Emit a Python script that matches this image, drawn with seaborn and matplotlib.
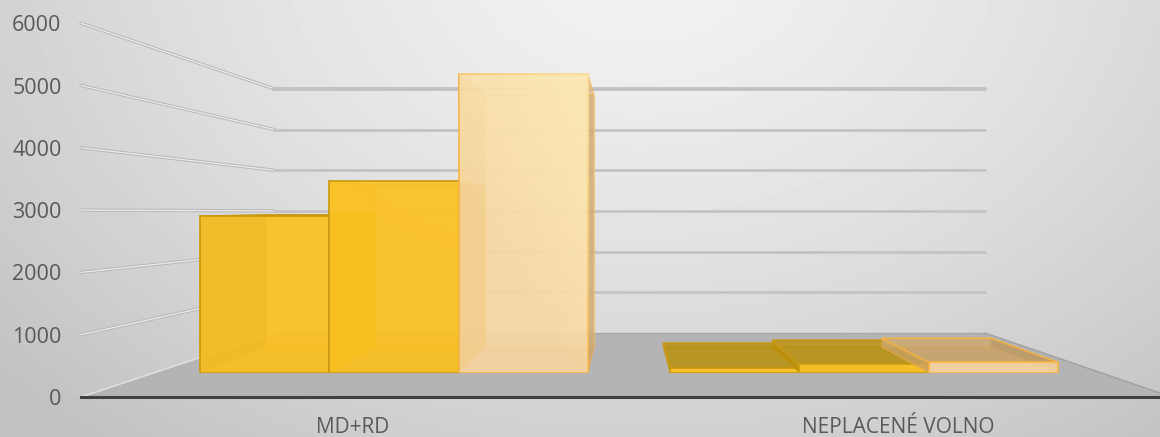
import numpy as np
import pandas as pd
import matplotlib
matplotlib.use('Agg')
from matplotlib import pyplot as plt
from matplotlib.patches import Polygon
import seaborn as sns

# values
categories = ['MD+RD', 'NEPLACENÉ VOLNO']
series_names = ['a', 'b', 'c']
series_a = [2900, 85]
series_b = [3545, 150]
series_c = [5530, 190]
y_ticks = [0, 1000, 2000, 3000, 4000, 5000, 6000]

df = pd.DataFrame({
    'category': categories * 3,
    'series': [s for s in series_names for _ in categories],
    'value': series_a + series_b + series_c,
})

sns.set_style('white')
plt.rcParams['font.family'] = ['Open Sans', 'DejaVu Sans']

W, H = 1160, 437
fig = plt.figure(figsize=(W / 100, H / 100), dpi=100)


def plane_axes(left, base, top, right=W):
    # axes given in pixel edges of the picture
    return fig.add_axes([left / W, (H - base) / H, (right - left) / W, (base - top) / H])


# background and walls work in plain pixels
bg = fig.add_axes([0, 0, 1, 1], zorder=0)
yy, xx = np.mgrid[0:H, 0:W]
dist = np.sqrt(((xx - 640) / 780) ** 2 + ((yy + 40) / 560) ** 2)
bg.imshow(242 - 42 * np.clip(dist, 0, 1.1) ** 1.4, cmap='gray', vmin=0, vmax=255,
          extent=(0, W, H, 0), aspect='auto')
bg.set_xlim(0, W)
bg.set_ylim(H, 0)
bg.axis('off')

# perspective of the 3d box
vanish = (626, 207)
depth = 0.155
front_base, front_scale = 397, 62.3 / 1000
back_base, back_scale = 333, 40.7 / 1000
back_left, back_right = 274, 985
front_left = 81

bg.add_patch(Polygon([(front_left, front_base), (back_left, back_base), (back_right, back_base),
                      (1160, 393), (1160, front_base)], fc='#b4b4b4', ec='none'))
bg.plot([front_left, back_left], [front_base, back_base], color='#e4e4e4', lw=1)
bg.plot([back_left, back_right], [back_base, back_base], color='#a8a8a8', lw=1)
bg.plot([back_right, 1160], [back_base, 393], color='#a0a0a0', lw=1)

for v in y_ticks[1:]:
    y0 = front_base - front_scale * v
    y1 = back_base - back_scale * v
    bg.plot([front_left, back_left], [y0, y1], color='#b8b8b8', lw=2.4, solid_capstyle='round')
    bg.plot([front_left, back_left], [y0, y1], color='#ececec', lw=0.9, solid_capstyle='round')
    bg.plot([back_left, back_right], [y1, y1], color='#c2c2c2', lw=2.8 if v == 6000 else 1.9)

# axis plane: tick labels and the dark front line
front = plane_axes(front_left, front_base, front_base - 6000 * front_scale)
front.patch.set_alpha(0)
front.set_zorder(1)
front.set_ylim(0, 6000)
front.set_yticks(y_ticks)
front.set_yticklabels([str(v) for v in y_ticks], fontsize=15.5, color='#595959')
front.set_xlim(-(353 - front_left) / 545, (W - 353) / 545)
front.set_xticks([0, 1])
front.set_xticklabels(categories, fontsize=15, color='#595959')
front.tick_params(axis='y', length=0, pad=14)
front.tick_params(axis='x', length=0, pad=14.5)
for side in ['top', 'left', 'right']:
    front.spines[side].set_visible(False)
front.spines['bottom'].set_color('#404040')
front.spines['bottom'].set_linewidth(2.2)

# bar plane: the bars sit on the floor a bit behind the axis
bar_base, bar_scale = 372.5, 53.9 / 1000
ax = plane_axes(0, bar_base, bar_base - 6000 * bar_scale)
ax.set_zorder(2)
ax.patch.set_alpha(0)
sns.barplot(data=df, x='category', y='value', hue='series',
            palette=['#fcc222', '#fcc222', '#f9d8a2'], width=0.825, gap=0,
            saturation=1, legend=False, ax=ax)
ax.set_xlim(-394 / 470, (W - 394) / 470)
ax.set_ylim(0, 6000)
ax.axis('off')

edge_cols = ['#c99a10', '#c99a10', '#f7b240']
side_cols = ['#f0b400', '#f0b400', '#eebd6e']
dark_cols = ['#a88408', '#a88408', '#c09a60']
front_alpha = [0.86, 0.86, 0.78]

top_ax = fig.add_axes([0, 0, 1, 1], zorder=3)
top_ax.set_xlim(0, W)
top_ax.set_ylim(H, 0)
top_ax.axis('off')


def to_px(x, y):
    p = ax.transData.transform((x, y))
    return p[0], H - p[1]


def behind(pt):
    return (pt[0] + (vanish[0] - pt[0]) * depth, pt[1] + (vanish[1] - pt[1]) * depth)


def face(points, col, alpha, ec, z):
    ax.add_patch(Polygon(points, closed=True, fc=matplotlib.colors.to_rgba(col, alpha),
                         ec=ec, lw=1.0, transform=bg.transData, zorder=z, clip_on=False))


for i, bars in enumerate(ax.containers):
    for j, bar in enumerate(bars):
        x0, x1 = bar.get_x(), bar.get_x() + bar.get_width()
        h = bar.get_height()
        bl, br = to_px(x0, 0), to_px(x1, 0)
        tl, tr = to_px(x0, h), to_px(x1, h)
        bbl, bbr, btl, btr = behind(bl), behind(br), behind(tl), behind(tr)
        z = 3 + i * 5
        edge = matplotlib.colors.to_rgba(edge_cols[i], 0.35)
        base_col = bar.get_facecolor()
        low = tl[1] > vanish[1]
        face([btl, btr, bbr, bbl], base_col, 0.55, edge, z)
        face([bl, br, bbr, bbl], side_cols[i], 0.5, edge, z + 0.1)
        face([bl, tl, btl, bbl], dark_cols[i] if low else side_cols[i], 0.6, edge, z + 0.2)
        face([br, tr, btr, bbr], dark_cols[i], 0.6, edge, z + 0.3)
        if low:
            # low bars, the lid is seen from above
            face([tl, tr, btr, btl], dark_cols[i], 0.62, edge_cols[i], z + 0.4)
        else:
            face([tl, tr, btr, btl], base_col, 0.35, edge, z + 0.4)
        bar.set_alpha(front_alpha[i])
        bar.set_edgecolor(edge_cols[i])
        bar.set_linewidth(1.4)
        bar.set_zorder(z + 0.5)

# the pale bar gets lighter towards its top right corner
tall = ax.containers[2][0]
tl = to_px(tall.get_x(), tall.get_height())
br = to_px(tall.get_x() + tall.get_width(), 0)
gy, gx = np.mgrid[0:1:60j, 0:1:40j]
shine = np.ones((60, 40, 4))
shine[..., 0] = 0.99
shine[..., 1] = 0.93
shine[..., 2] = 0.72
shine[..., 3] = np.clip(gx * 0.5 + (1 - gy) * 0.7 - 0.4, 0, 0.7)
im = top_ax.imshow(shine, extent=(tl[0], br[0], br[1], tl[1]), aspect='auto')
top_ax.set_xlim(0, W)
top_ax.set_ylim(H, 0)

fig.savefig('out.png', dpi=100)
